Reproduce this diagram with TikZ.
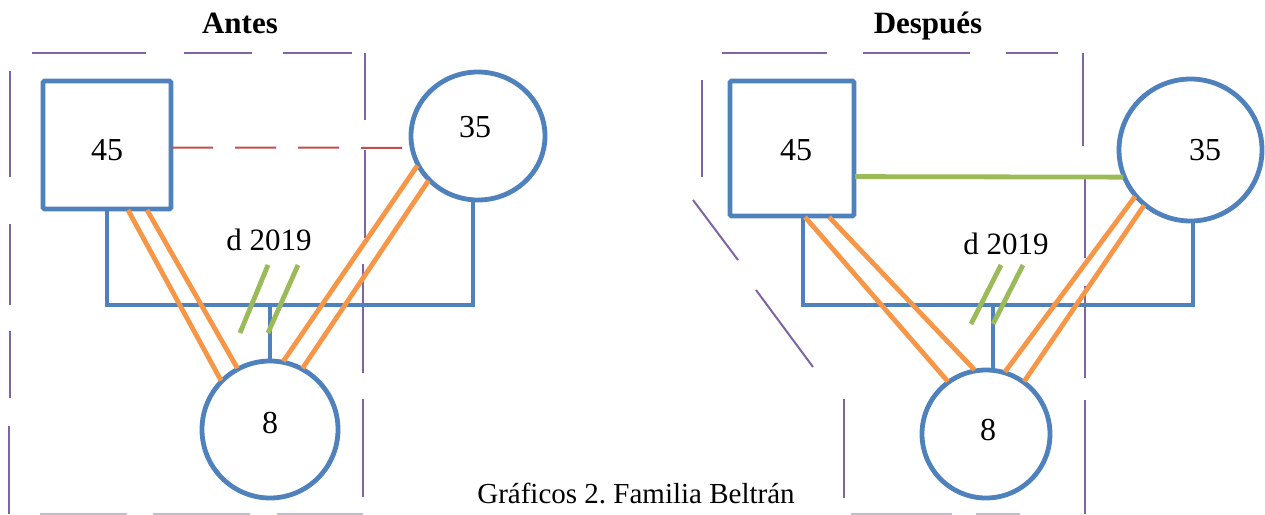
\documentclass[tikz,border=0pt]{standalone}
\usepackage{fontspec}
\setmainfont{Liberation Serif}
\usetikzlibrary{shapes.geometric,calc}
\definecolor{famblue}{HTML}{4F81BD}
\definecolor{relorange}{HTML}{F79646}
\definecolor{relgreen}{HTML}{9BBB59}
\definecolor{relred}{HTML}{C0504D}
\definecolor{bndpurple}{HTML}{8064A2}
\frenchspacing
\begin{document}
\begin{tikzpicture}[x=1pt,y=-1pt,
  shapeline/.style={draw=famblue,line width=4.8pt,fill=white,inner sep=0pt,outer sep=1pt},
  sqbox/.style={shapeline,rectangle,rounded corners=1.5pt},
  circbox/.style={shapeline,ellipse},
  num/.style={font=\fontsize{32}{32}\selectfont,inner sep=0pt},
  titletext/.style={font=\bfseries\fontsize{31}{31}\selectfont,inner sep=0pt,anchor=base},
  divtext/.style={font=\fontsize{31}{31}\selectfont,inner sep=0pt},
  captext/.style={font=\fontsize{29}{29}\selectfont,inner sep=0pt,anchor=base},
  famline/.style={draw=famblue,line width=4.8pt},
  famshade/.style={draw=black,line width=4.8pt,opacity=0.16},
  orangeline/.style={draw=relorange,line width=4.8pt},
  greenline/.style={draw=relgreen,line width=4.8pt},
  reddash/.style={draw=relred,line width=2pt,dash pattern=on 41pt off 22pt},
  bnd/.style={draw=bndpurple,line width=2pt},
  bndfaint/.style={draw=bndpurple!45,line width=2.4pt}
]
\useasboundingbox (0,0) rectangle (1265,514);

% ---------- boundaries (drawn shapes) ----------
% left
\draw[bnd] (32,53) -- (146,53);
\draw[bnd] (184,53) -- (252,53);
\draw[bnd] (283,53) -- (352,53);
\draw[bnd] (365,53) -- (365,120);
\draw[bnd] (365,150) -- (365,238);
\draw[bnd] (363,264) -- (363,373);
\draw[bnd] (363,399) -- (363,497);
\draw[bnd] (10,71) -- (10,177);
\draw[bnd] (10,224) -- (10,305);
\draw[bnd] (10,331) -- (10,398);
\draw[bnd] (9,426) -- (9,514);
\draw[bndfaint] (40,514) -- (127,514);
\draw[bndfaint] (153,514) -- (250,514);
\draw[bndfaint] (277,514) -- (363,514);
% right
\draw[bnd] (722,53) -- (827,53);
\draw[bnd] (863,53) -- (970,53);
\draw[bnd] (1006,53) -- (1058,53);
\draw[bnd] (1083,53) -- (1083,146);
\draw[bnd] (1085,177) -- (1085,258);
\draw[bnd] (1085,286) -- (1085,378);
\draw[bnd] (1085,400) -- (1085,514);
\draw[bnd] (702,80) -- (702,177);
\draw[bnd] (693,200) -- (738,260);
\draw[bnd] (756,290) -- (813,367);
\draw[bnd] (844,399) -- (844,498);
\draw[bndfaint] (851,514) -- (952,514);
\draw[bndfaint] (976,514) -- (1020,514);

% ---------- titles ----------
\node[titletext] (antes) at (240,33) {Antes};
\node[titletext] (despues) at (928,33) {Después};

% ---------- shapes ----------
\node[sqbox,minimum width=128pt,minimum height=128pt] (sqL) at (107,145) {};
\node[circbox,minimum width=134pt,minimum height=128pt] (c35L) at (478,136) {};
\node[circbox,minimum width=136pt,minimum height=137pt] (c8L) at (270,429.5) {};
\node[sqbox,minimum width=124pt,minimum height=135pt] (sqR) at (792,148.5) {};
\node[circbox,minimum width=143pt,minimum height=142pt] (c35R) at (1190.5,150) {};
\node[circbox,minimum width=128pt,minimum height=128pt] (c8R) at (986,434) {};

\node[num] (t45L) at (107,150) {45};
\node[num] (t35L) at (475,127) {35};
\node[num] (t8L) at (270,423) {8};
\node[num] (t45R) at (796,150) {45};
\node[num] (t35R) at (1205,150) {35};
\node[num] (t8R) at (988,430) {8};

% ---------- family lines ----------
\coordinate (busL) at (0,305);
\coordinate (fL) at ($(c35L.south)+(-5,0)$);
\coordinate (busR) at (0,305);
\coordinate (mR) at ($(sqR.south)+(11,0)$);
\coordinate (fR) at ($(c35R.south)+(2.5,0)$);
\coordinate (kR) at ($(c8R.north)+(7,0)$);
\begin{scope}[xshift=1.5pt,yshift=-2.5pt]
\draw[famshade] (sqL.south) -- (sqL.south |- busL) -- (fL |- busL) -- (fL);
\draw[famshade] (c8L.north |- busL) -- (c8L.north);
\draw[famshade] (mR) -- (mR |- busR) -- (fR |- busR) -- (fR);
\draw[famshade] (kR |- busR) -- (kR);
\end{scope}
\draw[famline] (sqL.south) -- (sqL.south |- busL) -- (fL |- busL) -- (fL);
\draw[famline] (c8L.north |- busL) -- (c8L.north);
\draw[famline] (mR) -- (mR |- busR) -- (fR |- busR) -- (fR);
\draw[famline] (kR |- busR) -- (kR);

% ---------- relationship lines ----------
\draw[orangeline] ($(sqL.south)+(21,0)$) -- (c8L.135);
\draw[orangeline] ($(sqL.south)+(40,0)$) -- (c8L.118);
\draw[orangeline] (c35L.206) -- (c8L.79.5);
\draw[orangeline] (c35L.222) -- (c8L.62);
\draw[orangeline] ($(sqR.south)+(13,0)$) -- (c8R.126.7);
\draw[orangeline] ($(sqR.south)+(37,0)$) -- (c8R.100.8);
\draw[orangeline] (c35R.220) -- (c8R.73.7);
\draw[orangeline] (c35R.230.6) -- (c8R.54.4);

\draw[reddash] ($(sqL.north east)!0.52!(sqL.south east)$) -- (c35L.190);
\draw[greenline] ($(sqR.north east)!0.705!(sqR.south east)$) -- (c35R.202.7);

% divorce marks
\coordinate (dL1a) at (240,333); \coordinate (dL1b) at (268,265);
\coordinate (dL2a) at (268,333); \coordinate (dL2b) at (298,265);
\coordinate (dR1a) at (971,324); \coordinate (dR1b) at (1001,265);
\coordinate (dR2a) at (993,324); \coordinate (dR2b) at (1023,265);
\draw[greenline] (dL1a) -- (dL1b);
\draw[greenline] (dL2a) -- (dL2b);
\draw[greenline] (dR1a) -- (dR1b);
\draw[greenline] (dR2a) -- (dR2b);
\node[divtext] (dateL) at (269,240) {d 2019};
\node[divtext] (dateR) at (1006,244) {d 2019};

% ---------- caption ----------
\node[captext] (cap) at (636,503) {Gráficos 2. Familia Beltrán};
\end{tikzpicture}
\end{document}
